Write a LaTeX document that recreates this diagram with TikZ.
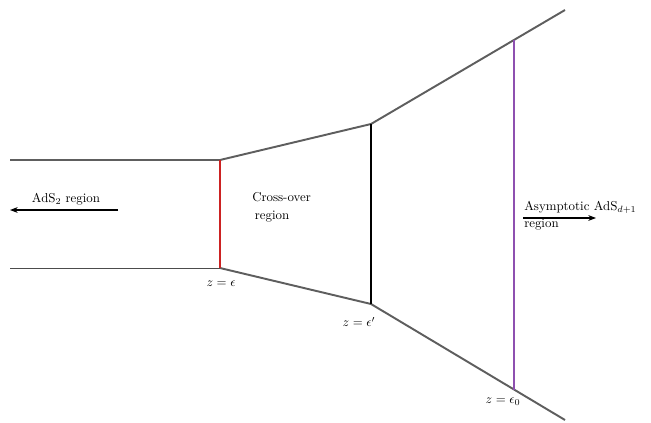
\documentclass[tikz,border=0pt]{standalone}
\usetikzlibrary{arrows.meta}
\begin{document}
\begin{tikzpicture}[x=0.776pt,y=-0.776pt,
  wall/.style={draw=black!63,line width=1.5pt},
  thinwall/.style={draw=black!70,line width=0.7pt},
  cut/.style={line width=1.3pt},
  dir/.style={-{Stealth[length=6pt,width=4.5pt]},line width=0.9pt},
  lab/.style={inner sep=0pt,font=\normalsize}]
\useasboundingbox (0,0) rectangle (651,422);
\coordinate (l1) at (10,160);
\coordinate (l2) at (10,268);
\coordinate (a1) at (220,160);
\coordinate (a2) at (220,268);
\coordinate (b1) at (371,124);
\coordinate (b2) at (371,304);
\coordinate (c1) at (565,10);
\coordinate (c2) at (565,420);
\coordinate (p1) at (514,40);
\coordinate (p2) at (514,389.5);
\draw[wall] (l1) -- (a1) -- (b1) -- (c1);
\draw[thinwall] (l2) -- (a2);
\draw[wall] (a2) -- (b2) -- (c2);
\draw[cut,draw={rgb,255:red,204;green,34;blue,34}] (a1) -- (a2);
\draw[cut,draw=black] (b1) -- (b2);
\draw[cut,draw={rgb,255:red,142;green,80;blue,176}] (p1) -- (p2);
\coordinate (ar1s) at (118,210);
\coordinate (ar1e) at (10,210);
\draw[dir] (ar1s) -- (ar1e);
\node[lab] (t1) at (66,199) {AdS$_2$ region};
\node[lab,align=left,anchor=north west] (t2) at (252,192) {Cross-over\\[2pt] \hspace{2pt}region};
\coordinate (ar2s) at (523,218);
\coordinate (ar2e) at (596,218);
\draw[dir] (ar2s) -- (ar2e);
\node[lab,anchor=west] (t3) at (524,207) {Asymptotic AdS$_{d+1}$};
\node[lab,anchor=west] (t4) at (524,225) {region};
\node[lab] (z1) at (221,284) {$z=\epsilon$};
\node[lab] (z2) at (359,322) {$z=\epsilon'$};
\node[lab] (z3) at (503,402) {$z=\epsilon_0$};
\end{tikzpicture}
\end{document}
